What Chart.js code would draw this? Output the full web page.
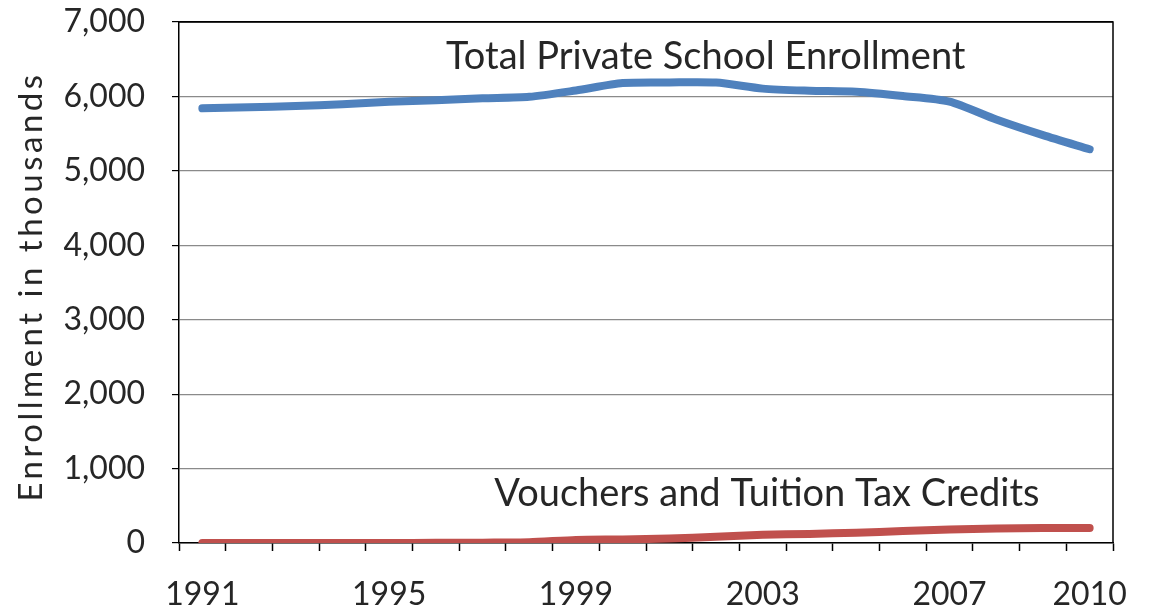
<!DOCTYPE html>
<html>
<head>
<meta charset="utf-8">
<title>Private School Enrollment</title>
<script src="https://cdn.jsdelivr.net/npm/chart.js@4/dist/chart.umd.min.js"></script>
<style>
    html, body { margin: 0; padding: 0; background: #fff; }
    #wrap { width: 1149px; height: 612px; }
</style>
</head>
<body>
<div id="wrap"><canvas id="enrollmentChart" width="1149" height="612"></canvas></div>
<script>
// Chart data (thousands of students)
const years = ['1991', '1992', '1993', '1994', '1995', '1996', '1997', '1998', '1999', '2000',
               '2001', '2002', '2003', '2004', '2005', '2006', '2007', '2008', '2009', '2010'];
const totalPrivate = [5840, 5853, 5870, 5894, 5928, 5950, 5975, 5995, 6080, 6180,
                      6188, 6186, 6105, 6077, 6062, 6005, 5930, 5690, 5480, 5290];
const vouchers = [0, 0, 0, 0, 0, 2, 5, 10, 42, 48,
                  60, 85, 110, 122, 138, 160, 180, 196, 200, 200];
const yTicks = [0, 1000, 2000, 3000, 4000, 5000, 6000, 7000];
const labelledYears = ['1991', '1995', '1999', '2003', '2007', '2010'];

const FONT = 'Lato, "Open Sans", sans-serif';
const TEXT_COLOR = '#262626';
const Y_TITLE = 'Enrollment in thousands';

// Text labels placed next to the lines
const lineLabels = [
    { text: 'Total Private School Enrollment', x: 10.78, y: 6530 },
    { text: 'Vouchers and Tuition Tax Credits', x: 12.09, y: 658 }
];

const lineLabelPlugin = {
    id: 'lineLabels',
    afterDatasetsDraw(chart) {
        const ctx = chart.ctx;
        const xs = chart.scales.x;
        const ys = chart.scales.y;
        ctx.save();
        ctx.font = '38px ' + FONT;
        ctx.fillStyle = TEXT_COLOR;
        ctx.textAlign = 'center';
        ctx.textBaseline = 'middle';
        lineLabels.forEach(function(l) {
            ctx.fillText(l.text, xs.getPixelForValue(l.x), ys.getPixelForValue(l.y));
        });
        ctx.restore();
    }
};

// Y axis title, drawn by hand so it can get some letter spacing
const yTitlePlugin = {
    id: 'yTitle',
    afterDraw(chart) {
        const ctx = chart.ctx;
        const a = chart.chartArea;
        const ys = chart.scales.y;
        ctx.save();
        ctx.translate(ys.left + 31, (a.top + a.bottom) / 2 + 4);
        ctx.rotate(-Math.PI / 2);
        ctx.font = '33px ' + FONT;
        if ('letterSpacing' in ctx) ctx.letterSpacing = '3.5px';
        ctx.fillStyle = TEXT_COLOR;
        ctx.textAlign = 'center';
        ctx.textBaseline = 'middle';
        ctx.fillText(Y_TITLE, 0, 0);
        ctx.restore();
    }
};

// Black frame round the plot area
const framePlugin = {
    id: 'frame',
    afterDraw(chart) {
        const a = chart.chartArea;
        const ctx = chart.ctx;
        ctx.save();
        ctx.strokeStyle = '#000';
        ctx.lineWidth = 1.5;
        ctx.beginPath();
        ctx.moveTo(a.left, a.top);
        ctx.lineTo(a.right, a.top);
        ctx.lineTo(a.right, a.bottom);
        ctx.stroke();
        ctx.restore();
    }
};

new Chart(document.getElementById('enrollmentChart'), {
    type: 'line',
    data: {
        labels: years,
        datasets: [
            {
                label: 'Total Private School Enrollment',
                data: totalPrivate,
                borderColor: '#4F81BD',
                borderWidth: 8,
                borderCapStyle: 'round',
                pointRadius: 0,
                tension: 0.25
            },
            {
                label: 'Vouchers and Tuition Tax Credits',
                data: vouchers,
                borderColor: '#C0504D',
                borderWidth: 8,
                borderCapStyle: 'round',
                pointRadius: 0,
                tension: 0.25
            }
        ]
    },
    options: {
        responsive: false,
        animation: false,
        layout: {
            padding: { top: 22, right: 36, left: 0, bottom: 0 }
        },
        plugins: {
            legend: { display: false },
            tooltip: { enabled: false }
        },
        scales: {
            x: {
                type: 'category',
                offset: true,
                grid: {
                    offset: true,
                    drawOnChartArea: false,
                    tickLength: 8,
                    tickColor: '#000',
                    tickWidth: 1.5
                },
                border: { color: '#000', width: 1.5 },
                ticks: {
                    autoSkip: false,
                    maxRotation: 0,
                    padding: 24,
                    color: TEXT_COLOR,
                    font: { family: FONT, size: 32 },
                    callback: function(value) {
                        const lbl = this.getLabelForValue(value);
                        return labelledYears.includes(lbl) ? lbl : '';
                    }
                },
                afterFit: function(scale) {
                    scale.height = 69;
                    scale.paddingLeft = 0;
                    scale.paddingRight = 0;
                }
            },
            y: {
                min: 0,
                max: 7000,
                afterBuildTicks: function(scale) {
                    scale.ticks = yTicks.map(function(v) { return { value: v }; });
                },
                grid: {
                    color: function(c) { return c.tick && c.tick.value === 7000 ? '#000' : '#8a8a8a'; },
                    lineWidth: 1.2,
                    tickLength: 7,
                    tickColor: '#000'
                },
                border: { color: '#000', width: 1.5 },
                ticks: {
                    padding: 27,
                    color: TEXT_COLOR,
                    font: { family: FONT, size: 32 },
                    callback: function(value) { return value.toLocaleString('en-US'); }
                },
                afterFit: function(scale) {
                    scale.width = 179;
                    scale.paddingTop = 0;
                    scale.paddingBottom = 0;
                }
            }
        }
    },
    plugins: [lineLabelPlugin, yTitlePlugin, framePlugin]
});
</script>
</body>
</html>
